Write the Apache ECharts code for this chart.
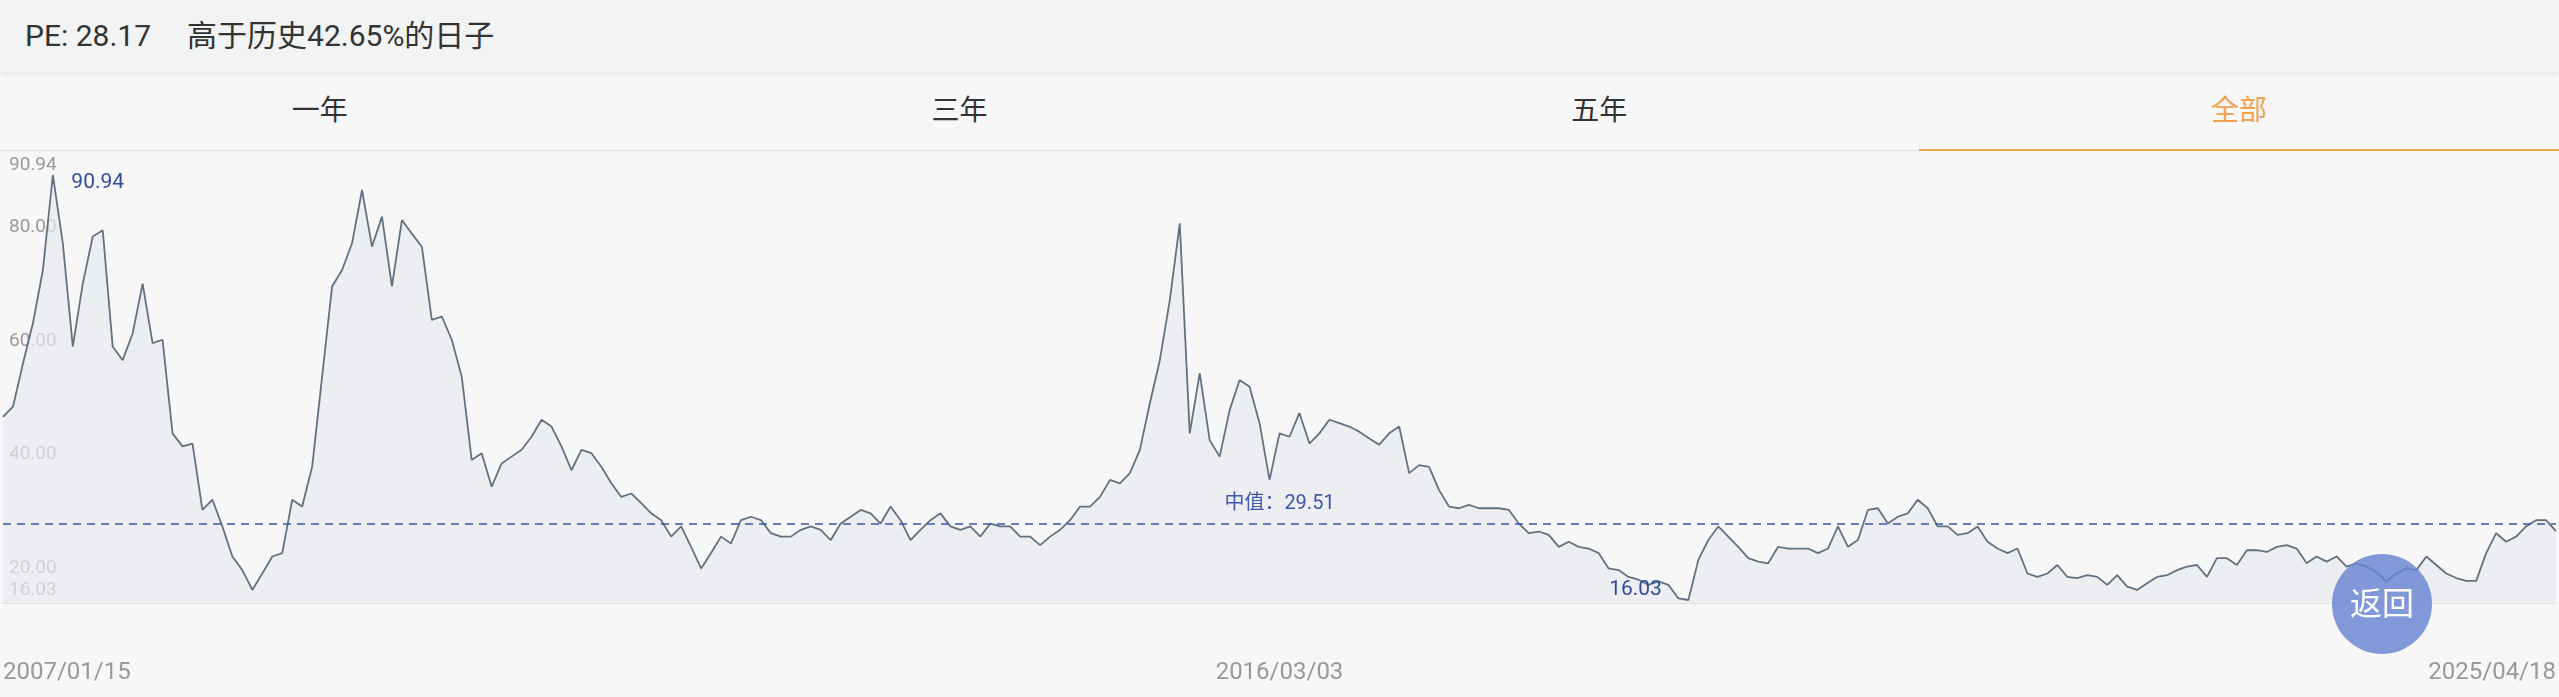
<!DOCTYPE html>
<html>
<head>
<meta charset="utf-8">
<title>PE</title>
<script src="https://cdn.jsdelivr.net/npm/echarts@6/dist/echarts.min.js"></script>
<style>
  html, body { margin: 0; padding: 0; width: 2559px; height: 697px; overflow: hidden; background: #f7f7f7;
    font-family: Roboto, "Noto Sans CJK SC", sans-serif; }
  .head { position: absolute; left: 0; top: 0; width: 100%; height: 72px; background: #f2f3f3;
    box-shadow: 0 2px 6px rgba(0,0,0,0.08); z-index: 2; font-size: 30px; color: #333;
    line-height: 72px; padding-left: 25px; box-sizing: border-box; }
  .head .rank { margin-left: 36px; }
  .tabs { position: absolute; left: 0; top: 72px; width: 100%; height: 79px; display: flex;
    border-bottom: 1px solid #e2e2e2; box-sizing: border-box; }
  .tab { flex: 1; text-align: center; line-height: 78px; font-size: 28px; color: #333; }
  .tab.active { color: #f0a24f; border-bottom: 2px solid #f0a24f; margin-bottom: -1px; }
  #chart { position: absolute; left: 0; top: 150px; width: 2559px; height: 547px; }
  .back { position: absolute; left: 2332px; top: 554px; width: 100px; height: 100px; border-radius: 50%;
    background: rgba(104,132,210,0.82); color: #fff; font-size: 32px; line-height: 100px;
    text-align: center; z-index: 3; }
</style>
</head>
<body>
<div class="head">PE: 28.17<span class="rank">高于历史42.65%的日子</span></div>
<div class="tabs">
  <div class="tab">一年</div>
  <div class="tab">三年</div>
  <div class="tab">五年</div>
  <div class="tab active">全部</div>
</div>
<div id="chart"></div>
<div class="back">返回</div>
<script>
// x-axis tick labels (first, middle, last trading day)
const tickDates = ['2007/01/15', '2016/03/03', '2025/04/18'];
const yTicks = [16.03, 20, 40, 60, 80, 90.94];
const medianPE = 29.51;

// PE, roughly evenly spaced in time
const pe2007 = [48.3, 50.1, 57.7, 64.8, 74.2, 90.94, 78.9, 60.7, 71.8, 80.1, 81.2, 60.7, 58.3, 63.0, 71.8,
  61.3, 61.9, 45.4, 43.1, 43.6, 31.9, 33.7, 29.0, 23.7, 21.3, 17.8, 20.7, 23.7, 24.3, 33.7, 32.5, 39.5,
  55.4, 71.3, 74.2, 78.9, 88.3, 78.3, 83.6, 71.3, 83.0, 80.6, 78.3, 65.4];
const pe2010 = [66.0, 61.9, 55.4, 40.7, 41.9, 36.0, 40.1, 41.3, 42.5, 44.8, 47.8, 46.6, 43.1, 38.9, 42.5,
  41.9, 39.5, 36.6, 34.2, 34.8, 33.1, 31.3, 30.1, 27.2, 29.0, 25.4, 21.6, 24.3, 27.2, 26.0, 30.1, 30.7,
  30.1, 27.8, 27.2, 27.2, 28.4, 29.0, 28.4, 26.6, 29.5, 30.7];
const pe2013 = [31.9, 31.3, 29.5, 32.5, 30.1, 26.6, 28.4, 30.1, 31.3, 29.0, 28.4, 29.0, 27.2, 29.5, 29.0,
  29.0, 27.2, 27.2, 25.7, 27.2, 28.4, 30.1, 32.5, 32.5, 34.2, 37.2, 36.6, 38.4, 42.5, 50.7, 58.3, 68.9,
  82.4, 45.4, 56.0, 44.2, 41.3, 49.5, 54.8, 53.6, 47.2, 37.2, 45.4];
const pe2016 = [44.8, 49.0, 43.6, 45.4, 47.8, 47.2, 46.6, 45.7, 44.5, 43.4, 45.4, 46.6, 38.4, 39.8, 39.5,
  35.4, 32.5, 32.2, 32.8, 32.2, 32.2, 32.2, 31.9, 29.5, 27.8, 28.1, 27.5, 25.4, 26.3, 25.4, 25.1, 24.3,
  21.6, 21.3, 20.1, 19.6, 18.7, 19.3, 18.7, 16.3, 16.03, 23.1];
const pe2019 = [26.6, 29.0, 27.2, 25.4, 23.4, 22.8, 22.5, 25.4, 25.1, 25.1, 25.1, 24.3, 25.1, 29.0, 25.4,
  26.6, 31.9, 32.2, 29.5, 30.7, 31.3, 33.7, 32.2, 29.0, 29.0, 27.5, 27.8, 29.0, 26.3, 25.1, 24.3, 25.1,
  20.7, 20.1, 20.7, 22.2, 20.1, 19.9, 20.4, 20.1, 18.7, 20.4, 18.4];
const pe2022 = [17.8, 19.0, 20.1, 20.4, 21.3, 21.9, 22.2, 20.1, 23.4, 23.4, 22.2, 24.8, 24.8, 24.5, 25.4,
  25.7, 25.1, 22.5, 23.7, 22.8, 23.7, 21.9, 22.5, 21.9, 21.0, 19.3, 20.7, 21.6, 21.3, 23.7, 22.2, 20.7,
  19.9, 19.4, 19.4, 24.3, 27.8, 26.3, 27.2, 29.0, 30.1, 30.1, 28.17];

const peValues = [].concat(pe2007, pe2010, pe2013, pe2016, pe2019, pe2022);

function fmt(d) {
  return d.getUTCFullYear() + '/' + String(d.getUTCMonth() + 1).padStart(2, '0') + '/' +
    String(d.getUTCDate()).padStart(2, '0');
}
// category dates between the three known tick dates
function buildDates(n) {
  const t = tickDates.map(s => Date.parse(s.replace(/\//g, '-') + 'T00:00:00Z'));
  const mid = (n - 1) / 2;
  const out = [];
  for (let i = 0; i < n; i++) {
    const ms = i <= mid ? t[0] + (t[1] - t[0]) * i / mid : t[1] + (t[2] - t[1]) * (i - mid) / mid;
    out.push(fmt(new Date(Math.round(ms / 86400000) * 86400000)));
  }
  return out;
}
const dates = buildDates(peValues.length);
const midIdx = (dates.length - 1) / 2;

const chart = echarts.init(document.getElementById('chart'));
chart.setOption({
  animation: false,
  backgroundColor: 'transparent',
  textStyle: { fontFamily: 'Roboto, "Noto Sans CJK SC", sans-serif' },
  grid: { left: 0, right: 0, top: 25, bottom: 94 },
  xAxis: {
    type: 'category',
    data: dates,
    boundaryGap: false,
    axisLine: { lineStyle: { color: '#e0e0e0' } },
    axisTick: { show: false },
    splitLine: { show: false },
    axisLabel: {
      interval: (i) => i === 0 || i === midIdx || i === dates.length - 1,
      margin: 58,
      color: '#999',
      fontSize: 24,
      alignMinLabel: 'left',
      alignMaxLabel: 'right'
    }
  },
  yAxis: {
    type: 'value',
    min: 15.5,
    max: 90.94,
    axisLine: { show: false },
    axisTick: { show: false },
    splitLine: { show: false },
    axisLabel: {
      inside: true,
      margin: 6,
      color: '#999',
      fontSize: 19,
      verticalAlign: 'bottom',
      customValues: yTicks,
      formatter: v => v.toFixed(2)
    }
  },
  series: [{
    type: 'line',
    data: peValues,
    symbol: 'none',
    lineStyle: { color: '#627283', width: 1.8 },
    areaStyle: { color: '#e8eaee' },
    markPoint: {
      symbol: 'circle',
      symbolSize: 1,
      itemStyle: { color: 'transparent' },
      label: { show: true, color: '#2f4c9e', fontSize: 21, formatter: p => Number(p.value).toFixed(2) },
      data: [
        { type: 'max', label: { position: 'right', distance: 18, offset: [0, 8] } },
        { type: 'min', label: { position: 'left', distance: 26, offset: [0, -10] } }
      ]
    },
    markLine: {
      symbol: 'none',
      silent: true,
      lineStyle: { color: '#3b58aa', type: [8, 6], width: 1.5 },
      label: { position: 'insideMiddleTop', distance: 10, color: '#3b58aa', fontSize: 20,
        formatter: '中值：' + medianPE.toFixed(2) },
      data: [{ yAxis: medianPE }]
    }
  }]
});
</script>
</body>
</html>
